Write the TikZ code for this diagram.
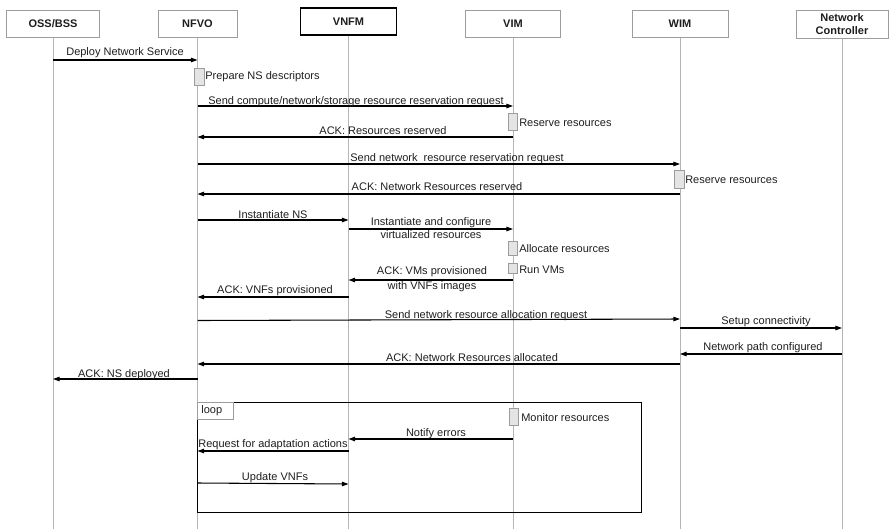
\documentclass[tikz,border=0pt]{standalone}
\usepackage{fontspec}
\setmainfont{Liberation Sans}
\usetikzlibrary{arrows.meta}
\definecolor{lifegray}{HTML}{B5B5B5}
\definecolor{boxgray}{HTML}{9C9C9C}
\definecolor{actfill}{HTML}{E4E4E4}
\definecolor{ink}{HTML}{1E1E1E}
\begin{document}
\begin{tikzpicture}[x=0.75pt, y=-0.75pt,
  font=\fontsize{8.25}{10}\selectfont,
  head/.style={draw=boxgray, line width=0.75pt, fill=white, text=ink,
    font=\fontsize{8.25}{10}\selectfont\bfseries, minimum height=20.25pt,
    inner sep=0pt, align=center},
  life/.style={draw=lifegray, line width=0.75pt},
  msg/.style={draw=black, line width=0.8pt, -{Triangle[length=5pt,width=3.4pt]}},
  lbl/.style={text=ink, inner sep=0pt, anchor=base},
  lbltwo/.style={text=ink, inner sep=0pt, anchor=center, align=center},
  note/.style={text=ink, inner sep=0pt, anchor=base west},
  act/.style={draw=boxgray, fill=actfill, line width=0.6pt, minimum width=7pt, inner sep=0pt},
  frame/.style={draw=black, line width=0.9pt, inner sep=0pt},
  looptag/.style={draw=boxgray, line width=0.6pt, fill=white, text=ink, inner xsep=3pt, inner ysep=0pt,
    text width=21pt, minimum height=12.75pt, align=left}]
\useasboundingbox (0,0) rectangle (889,529);
\coordinate (bottom) at (0,529);

% participants
\node[head, minimum width=69.75pt] (oss) at (53,23.5) {OSS/BSS};
\node[head, minimum width=59.25pt] (nfvo) at (197.5,23.5) {NFVO};
\node[head, minimum width=72pt, draw=black, line width=1.1pt] (vnfm) at (348.5,21.5) {VNFM};
\node[head, minimum width=71.25pt] (vim) at (513,23.5) {VIM};
\node[head, minimum width=72pt] (wim) at (680,23.5) {WIM};
\node[head, minimum width=69pt, minimum height=21pt] (nc) at (842,24) {Network\\Controller};

% lifelines
\foreach \p in {oss,nfvo,vnfm,vim,wim,nc}
  \draw[life] (\p.south) -- (\p.south |- bottom);

% loop fragment
\node[frame, anchor=north west, minimum width=333pt, minimum height=82.5pt] (loop) at (197,402) {};
\node[looptag, anchor=north west] (looptag) at (loop.north west) {loop};

% message end points
\path (oss |- 0,60) coordinate (m1a)   (nfvo |- 0,60) coordinate (m1b)
      (nfvo |- 0,106) coordinate (m2a)  (vim |- 0,106) coordinate (m2b)
      (vim |- 0,137) coordinate (m3a)   (nfvo |- 0,137) coordinate (m3b)
      (nfvo |- 0,164) coordinate (m4a)  (wim |- 0,164) coordinate (m4b)
      (wim |- 0,194) coordinate (m5a)   (nfvo |- 0,194) coordinate (m5b)
      (nfvo |- 0,220) coordinate (m6a)  (vnfm |- 0,220) coordinate (m6b)
      (vnfm |- 0,229) coordinate (m7a)  (vim |- 0,229) coordinate (m7b)
      (vim |- 0,280) coordinate (m8a)   (vnfm |- 0,280) coordinate (m8b)
      (vnfm |- 0,297) coordinate (m9a)  (nfvo |- 0,297) coordinate (m9b)
      (nfvo |- 0,320.5) coordinate (m10a) (wim |- 0,319) coordinate (m10b)
      (wim |- 0,328) coordinate (m11a)  (nc |- 0,328) coordinate (m11b)
      (nc |- 0,354) coordinate (m12a)   (wim |- 0,354) coordinate (m12b)
      (wim |- 0,364) coordinate (m13a)  (nfvo |- 0,364) coordinate (m13b)
      (nfvo |- 0,379) coordinate (m14a) (oss |- 0,379) coordinate (m14b)
      (vim |- 0,439) coordinate (m15a)  (vnfm |- 0,439) coordinate (m15b)
      (vnfm |- 0,451) coordinate (m16a) (nfvo |- 0,451) coordinate (m16b)
      (nfvo |- 0,483) coordinate (m17a) (vnfm |- 0,484) coordinate (m17b);

% messages
\foreach \i in {1,...,17}
  \draw[msg] (m\i a) -- (m\i b);

% activation bars
\node[act, minimum height=12.75pt] (actprep) at (199.5,76.5) {};
\node[act, minimum height=12.75pt] (actres1) at (513,121.5) {};
\node[act, minimum height=13.5pt] (actres2) at (679.5,179) {};
\node[act, minimum height=10.5pt] (actalloc) at (513,248) {};
\node[act, minimum height=7.5pt] (actrun) at (513,268) {};
\node[act, minimum height=12.75pt] (actmon) at (514,416.5) {};

% message labels
\node[lbl] (l1) at (125,55) {Deploy Network Service};
\node[lbl] (l2) at (356,104) {Send compute/network/storage resource reservation request};
\node[lbl] (l3) at (383,134) {ACK: Resources reserved};
\node[lbl] (l4) at (457,161) {Send network\ \ resource reservation request};
\node[lbl] (l5) at (437,190) {ACK: Network Resources reserved};
\node[lbl] (l6) at (273,218) {Instantiate NS};
\node[lbltwo, font=\fontsize{8.25}{9.75}\selectfont] (l7) at (431,228.5) {Instantiate and configure\\virtualized resources};
\node[lbltwo, font=\fontsize{8.25}{11.25}\selectfont] (l8) at (432,279.5) {ACK: VMs provisioned\\with VNFs images};
\node[lbl] (l9) at (275,293) {ACK: VNFs provisioned};
\node[lbl] (l10) at (486,318) {Send network resource allocation request};
\node[lbl] (l11) at (766,324) {Setup connectivity};
\node[lbl] (l12) at (763,350) {Network path configured};
\node[lbl] (l13) at (472,361) {ACK: Network Resources allocated};
\node[lbl] (l14) at (124,377) {ACK: NS deployed};
\node[lbl] (l15) at (436,436) {Notify errors};
\node[lbl] (l16) at (273,447) {Request for adaptation actions};
\node[lbl] (l17) at (275,480) {Update VNFs};

% activation notes
\node[note] (n1) at (205,79) {Prepare NS descriptors};
\node[note] (n2) at (519,126) {Reserve resources};
\node[note] (n3) at (685,183) {Reserve resources};
\node[note] (n4) at (519,252) {Allocate resources};
\node[note] (n5) at (519,273) {Run VMs};
\node[note] (n6) at (521,421) {Monitor resources};
\end{tikzpicture}
\end{document}
